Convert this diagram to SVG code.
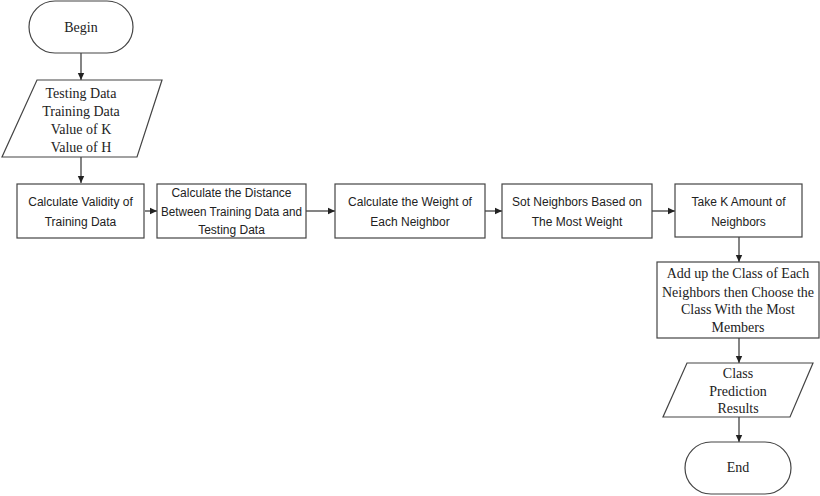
<svg xmlns="http://www.w3.org/2000/svg" width="820" height="496" viewBox="0 0 820 496">
<defs>
<marker id="ah" markerWidth="8" markerHeight="8" refX="7" refY="4" orient="auto" markerUnits="userSpaceOnUse">
<path d="M0,0.8 L7,4 L0,7.2 Z" fill="#222"/>
</marker>
</defs>
<style>
.shape{fill:#fff;stroke:#444;stroke-width:1.2}
.serif{font-family:"Liberation Serif","Times New Roman",serif;font-size:14px;fill:#222;text-anchor:middle}
.sans{font-family:"Liberation Sans",Arial,sans-serif;font-size:12px;fill:#222;text-anchor:middle}
.conn{stroke:#333;stroke-width:1.2;fill:none;marker-end:url(#ah)}
</style>
<rect width="820" height="496" fill="#fff"/>
<g id="connectors">
<line class="conn" x1="81" y1="53" x2="81" y2="80"/>
<line class="conn" x1="81" y1="157" x2="81" y2="183"/>
<line class="conn" x1="145" y1="211" x2="157" y2="211"/>
<line class="conn" x1="306" y1="211" x2="335" y2="211"/>
<line class="conn" x1="485" y1="211" x2="502" y2="211"/>
<line class="conn" x1="652" y1="211" x2="675" y2="211"/>
<line class="conn" x1="739" y1="237" x2="739" y2="262"/>
<line class="conn" x1="739" y1="338" x2="739" y2="363"/>
<line class="conn" x1="739" y1="417" x2="739" y2="442"/>
</g>
<g id="begin">
<rect class="shape" x="29" y="1" width="104" height="52" rx="26"/>
<text class="serif" x="81" y="32">Begin</text>
</g>
<g id="input">
<polygon class="shape" points="37,80 162,80 137,157 2,157"/>
<text class="serif" x="81" y="98">Testing Data</text>
<text class="serif" x="81" y="116">Training Data</text>
<text class="serif" x="81" y="134">Value of K</text>
<text class="serif" x="81" y="152">Value of H</text>
</g>
<g id="validity">
<rect class="shape" x="17" y="184" width="127" height="54"/>
<text class="sans" x="80.5" y="206">Calculate Validity of</text>
<text class="sans" x="80.5" y="226">Training Data</text>
</g>
<g id="distance">
<rect class="shape" x="157" y="184" width="149" height="54"/>
<text class="sans" x="231.5" y="197">Calculate the Distance</text>
<text class="sans" x="231.5" y="216" textLength="141" lengthAdjust="spacingAndGlyphs">Between Training Data and</text>
<text class="sans" x="231.5" y="234">Testing Data</text>
</g>
<g id="weight">
<rect class="shape" x="335" y="184" width="150" height="54"/>
<text class="sans" x="410" y="206">Calculate the Weight of</text>
<text class="sans" x="410" y="226">Each Neighbor</text>
</g>
<g id="sort">
<rect class="shape" x="502" y="184" width="150" height="54"/>
<text class="sans" x="577" y="206">Sot Neighbors Based on</text>
<text class="sans" x="577" y="226">The Most Weight</text>
</g>
<g id="takek">
<rect class="shape" x="675" y="184" width="127" height="53"/>
<text class="sans" x="738.5" y="206">Take K Amount of</text>
<text class="sans" x="738.5" y="226">Neighbors</text>
</g>
<g id="addup">
<rect class="shape" x="657" y="262" width="162" height="76"/>
<text class="serif" x="738" y="278">Add up the Class of Each</text>
<text class="serif" x="738" y="297">Neighbors then Choose the</text>
<text class="serif" x="738" y="314">Class With the Most</text>
<text class="serif" x="738" y="332">Members</text>
</g>
<g id="output">
<polygon class="shape" points="687,363 813,363 790,417 663,417"/>
<text class="serif" x="738" y="378">Class</text>
<text class="serif" x="738" y="396">Prediction</text>
<text class="serif" x="738" y="413">Results</text>
</g>
<g id="end">
<rect class="shape" x="685" y="442" width="106" height="52" rx="26"/>
<text class="serif" x="738" y="472">End</text>
</g>
</svg>
